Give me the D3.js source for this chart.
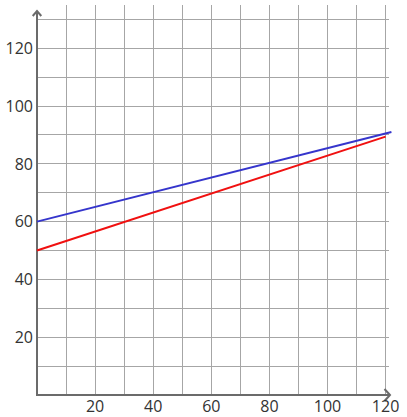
<!DOCTYPE html>
<html>
<head>
<meta charset="utf-8">
<script src="https://cdn.jsdelivr.net/npm/d3@7"></script>
<style>
  body { margin: 0; background: #fff; }
  text { font-family: "Open Sans", sans-serif; fill: #333; }
</style>
</head>
<body>
<svg id="chart" width="407" height="417"></svg>
<script>
// values
const xTicks = [20, 40, 60, 80, 100, 120];
const yTicks = [20, 40, 60, 80, 100, 120];
const xGrid = [10, 20, 30, 40, 50, 60, 70, 80, 90, 100, 110, 120];
const yGrid = [10, 20, 30, 40, 50, 60, 70, 80, 90, 100, 110, 120, 130];
const redLine = [{x: 0, y: 50}, {x: 120, y: 89.4}];
const blueLine = [{x: 0, y: 60}, {x: 122, y: 91}];

const svg = d3.select("#chart");

const x = d3.scaleLinear().domain([0, 120]).range([37, 385.6]);
const y = d3.scaleLinear().domain([0, 130]).range([395, 19.3]);

// grid
svg.append("g")
    .selectAll("line")
    .data(xGrid)
    .join("line")
        .attr("x1", d => x(d)).attr("x2", d => x(d))
        .attr("y1", 395).attr("y2", 5)
        .attr("stroke", "#a6a6a6")
        .attr("stroke-width", 1)
        .attr("shape-rendering", "crispEdges");

svg.append("g")
    .selectAll("line")
    .data(yGrid)
    .join("line")
        .attr("x1", 37).attr("x2", 389)
        .attr("y1", d => y(d)).attr("y2", d => y(d))
        .attr("stroke", "#a6a6a6")
        .attr("stroke-width", 1)
        .attr("shape-rendering", "crispEdges");

// axes with arrow heads
const axisColor = "#6b6b6b";
svg.append("path")
    .attr("d", "M37,396V11 M32.7,16L37,11L41.3,16")
    .attr("fill", "none").attr("stroke", axisColor).attr("stroke-width", 2);
svg.append("path")
    .attr("d", "M36,395H390 M384.5,389L390,395L384.5,401")
    .attr("fill", "none").attr("stroke", axisColor).attr("stroke-width", 2);

// tick labels
svg.append("g")
    .selectAll("text")
    .data(yTicks)
    .join("text")
        .attr("x", 33)
        .attr("y", d => y(d))
        .attr("dy", "0.36em")
        .attr("text-anchor", "end")
        .attr("font-size", 16)
        .text(d => d);

svg.append("g")
    .selectAll("text")
    .data(xTicks)
    .join("text")
        .attr("x", d => x(d))
        .attr("y", 406)
        .attr("dy", "0.36em")
        .attr("text-anchor", "middle")
        .attr("font-size", 16)
        .text(d => d);

// lines
const line = d3.line().x(d => x(d.x)).y(d => y(d.y));
svg.append("path")
    .datum(redLine)
    .attr("d", line)
    .attr("fill", "none").attr("stroke", "#f01010").attr("stroke-width", 2);
svg.append("path")
    .datum(blueLine)
    .attr("d", line)
    .attr("fill", "none").attr("stroke", "#3535cc").attr("stroke-width", 2);
</script>
</body>
</html>
